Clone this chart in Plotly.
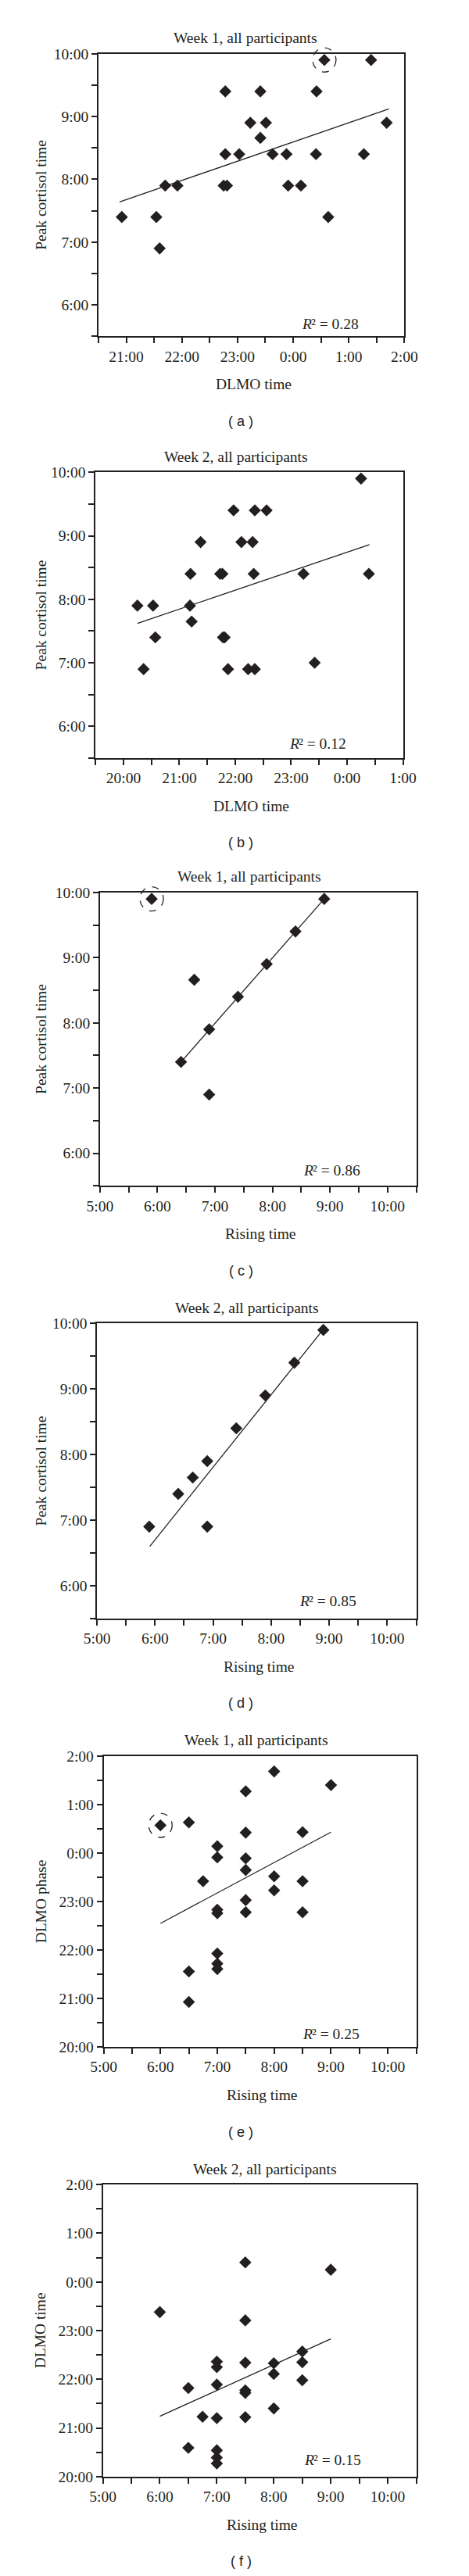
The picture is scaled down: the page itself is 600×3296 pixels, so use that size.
import plotly.graph_objects as go

W, H = 600, 3296
SERIF = "Liberation Serif"
SANS = "Liberation Sans"
INK = "#231f20"
FS = 19.5

# ---------------- data (hours; evening/night values continue past 24) ----------------
# (a) Week 1: DLMO time vs peak cortisol time
a_x = [20.92, 21.54, 21.60, 21.70, 21.92, 22.78, 22.78, 22.75, 22.81, 23.03, 23.23, 23.41, 23.41,
       23.51, 23.63, 23.88, 23.91, 24.14, 24.42, 24.41, 24.56, 24.63, 25.27, 25.40, 25.68]
a_y = [7.4, 7.4, 6.9, 7.9, 7.9, 9.4, 8.4, 7.9, 7.9, 8.4, 8.9, 9.4, 8.66,
       8.9, 8.4, 8.4, 7.9, 7.9, 9.4, 8.4, 9.9, 7.4, 8.4, 9.9, 8.9]
a_fit_x = [20.88, 25.72]
a_fit_y = [7.64, 9.12]
a_circled = [20]

# (b) Week 2: DLMO time vs peak cortisol time
b_x = [20.25, 20.36, 20.53, 20.57, 21.20, 21.19, 21.22, 21.38, 21.73, 21.77, 21.78, 21.81, 21.87,
       21.97, 22.11, 22.23, 22.31, 22.35, 22.33, 22.35, 22.56, 23.22, 23.42, 24.25, 24.39]
b_y = [7.9, 6.9, 7.9, 7.4, 8.4, 7.9, 7.65, 8.9, 8.4, 8.4, 7.4, 7.4, 6.9,
       9.4, 8.9, 6.9, 8.9, 9.4, 8.4, 6.9, 9.4, 8.4, 7.0, 9.9, 8.4]
b_fit_x = [20.25, 24.40]
b_fit_y = [7.62, 8.86]
b_circled = []

# (c) Week 1: rising time vs peak cortisol time
c_x = [5.9, 6.64, 6.41, 6.9, 6.9, 7.4, 7.9, 8.4, 8.9]
c_y = [9.9, 8.66, 7.4, 7.9, 6.9, 8.4, 8.9, 9.4, 9.9]
c_fit_x = [6.41, 8.90]
c_fit_y = [7.40, 9.90]
c_circled = [0]

# (d) Week 2: rising time vs peak cortisol time
d_x = [5.9, 6.4, 6.65, 6.9, 6.9, 7.4, 7.9, 8.4, 8.9]
d_y = [6.9, 7.4, 7.65, 7.9, 6.9, 8.4, 8.9, 9.4, 9.9]
d_fit_x = [5.91, 8.91]
d_fit_y = [6.60, 9.92]
d_circled = []

# (e) Week 1: rising time vs DLMO phase
e_x = [6.0, 6.5, 6.5, 6.5, 6.75, 7.0, 7.0, 7.0, 7.0, 7.0, 7.0, 7.0, 7.5,
       7.5, 7.5, 7.5, 7.5, 7.5, 8.0, 8.0, 8.0, 8.5, 8.5, 8.5, 9.0]
e_y = [24.57, 24.63, 21.56, 20.93, 23.42, 24.14, 23.91, 22.83, 22.76, 21.93, 21.72, 21.61, 25.27,
       24.42, 23.89, 23.65, 23.03, 22.78, 25.68, 23.52, 23.23, 24.43, 23.42, 22.78, 25.40]
e_fit_x = [6.0, 9.0]
e_fit_y = [22.55, 24.43]
e_circled = [0]

# (f) Week 2: rising time vs DLMO time
f_x = [6.0, 6.5, 6.5, 6.75, 7.0, 7.0, 7.0, 7.0, 7.0, 7.0, 7.0, 7.5,
       7.5, 7.5, 7.5, 7.5, 7.5, 8.0, 8.0, 8.0, 8.5, 8.5, 8.5, 9.0]
f_y = [23.38, 21.82, 20.59, 21.23, 22.36, 22.25, 21.89, 21.20, 20.54, 20.39, 20.27, 24.40,
       23.21, 22.34, 21.77, 21.72, 21.22, 22.33, 22.11, 21.40, 22.57, 22.35, 21.98, 24.25]
f_fit_x = [6.0, 9.0]
f_fit_y = [21.24, 22.83]
f_circled = []

# tick labels
dlmo_a_ticks = ["21:00", "22:00", "23:00", "0:00", "1:00", "2:00"]
dlmo_b_ticks = ["20:00", "21:00", "22:00", "23:00", "0:00", "1:00"]
rise_ticks = ["5:00", "6:00", "7:00", "8:00", "9:00", "10:00"]
cort_ticks = ["6:00", "7:00", "8:00", "9:00", "10:00"]
phase_ticks = ["20:00", "21:00", "22:00", "23:00", "0:00", "1:00", "2:00"]

r2_values = ["0.28", "0.12", "0.86", "0.85", "0.25", "0.15"]
titles = ["Week 1, all participants", "Week 2, all participants",
          "Week 1, all participants", "Week 2, all participants",
          "Week 1, all participants", "Week 2, all participants"]
x_titles = ["DLMO time", "DLMO time", "Rising time", "Rising time", "Rising time", "Rising time"]
y_titles = ["Peak cortisol time", "Peak cortisol time", "Peak cortisol time",
            "Peak cortisol time", "DLMO phase", "DLMO time"]
captions = ["( a )", "( b )", "( c )", "( d )", "( e )", "( f )"]


def hours_of(labels, wrap):
    """Convert 'H:00' labels to continuous hours (wrapping past midnight if wrap)."""
    out = []
    prev = None
    for lab in labels:
        h = int(lab.split(":")[0])
        if wrap and prev is not None:
            while h <= prev:
                h += 24
        out.append(h)
        prev = h
    return out


# ---------------- layout geometry (pixels) ----------------
panels = [
    dict(x=a_x, y=a_y, fx=a_fit_x, fy=a_fit_y, circ=a_circled, xr=[20.5, 26.0], yr=[5.5, 10.0],
         xt=dlmo_a_ticks, yt=cort_ticks, box=(107, 522, 51, 415), r2=(421, 16)),
    dict(x=b_x, y=b_y, fx=b_fit_x, fy=b_fit_y, circ=b_circled, xr=[19.5, 25.0], yr=[5.5, 10.0],
         xt=dlmo_b_ticks, yt=cort_ticks, box=(103, 520, 590, 958), r2=(404, 19)),
    dict(x=c_x, y=c_y, fx=c_fit_x, fy=c_fit_y, circ=c_circled, xr=[5.0, 10.5], yr=[5.5, 10.0],
         xt=rise_ticks, yt=cort_ticks, box=(109, 538, 1131, 1509), r2=(423, 20)),
    dict(x=d_x, y=d_y, fx=d_fit_x, fy=d_fit_y, circ=d_circled, xr=[5.0, 10.5], yr=[5.5, 10.0],
         xt=rise_ticks, yt=cort_ticks, box=(105, 538, 1686, 2066), r2=(418, 22)),
    dict(x=e_x, y=e_y, fx=e_fit_x, fy=e_fit_y, circ=e_circled, xr=[5.0, 10.5], yr=[20.0, 26.0],
         xt=rise_ticks, yt=phase_ticks, box=(114, 538, 2243, 2618), r2=(422, 17)),
    dict(x=f_x, y=f_y, fx=f_fit_x, fy=f_fit_y, circ=f_circled, xr=[5.0, 10.5], yr=[20.0, 26.0],
         xt=rise_ticks, yt=phase_ticks, box=(113, 538, 2795, 3171), r2=(424, 21)),
]
title_cx = [306, 294, 312, 309, 321, 333]

fig = go.Figure()
layout = dict(width=W, height=H, margin=dict(l=0, r=0, t=0, b=0), autosize=False,
              paper_bgcolor="white", plot_bgcolor="white", showlegend=False,
              font=dict(family=SERIF, size=FS, color=INK))
annotations = []
shapes = []


def px(xpix):
    return xpix / W


def py(ypix):
    return 1 - ypix / H


def note(text, xpix, ypix, anchor="center", size=FS, family=SERIF, style="normal", angle=0):
    annotations.append(dict(text=text, x=px(xpix), y=py(ypix), xref="paper", yref="paper",
                            showarrow=False, xanchor=anchor, yanchor="middle", textangle=angle,
                            borderpad=0, borderwidth=0,
                            font=dict(family=family, size=size, color=INK, style=style)))


for i, p in enumerate(panels):
    n = "" if i == 0 else str(i + 1)
    x0, x1, y0, y1 = p["box"]
    xv = hours_of(p["xt"], p["xr"][0] > 12)
    yv = hours_of(p["yt"], p["yr"][0] > 12)
    common = dict(showline=True, mirror=True, linecolor=INK, linewidth=1.5, ticks="outside",
                  ticklen=7, tickwidth=1.5, tickcolor=INK, showgrid=False, zeroline=False,
                  tickfont=dict(family=SERIF, size=FS, color=INK), fixedrange=True,
                  minor=dict(ticks="outside", dtick=0.5, tick0=0, ticklen=7, tickwidth=1.5,
                             tickcolor=INK, showgrid=False))
    layout["xaxis" + n] = dict(common, domain=[px(x0), px(x1)], range=p["xr"], tickvals=xv,
                               ticktext=p["xt"], anchor="y" + n)
    layout["yaxis" + n] = dict(common, domain=[py(y1), py(y0)], range=p["yr"], tickvals=yv,
                               ticktext=p["yt"], anchor="x" + n)
    fig.add_trace(go.Scatter(x=p["fx"], y=p["fy"], mode="lines", line=dict(color=INK, width=1.3),
                             xaxis="x" + n, yaxis="y" + n, hoverinfo="skip"))
    fig.add_trace(go.Scatter(x=p["x"], y=p["y"], mode="markers", cliponaxis=False,
                             marker=dict(symbol="diamond", size=12, color=INK, line=dict(width=0)),
                             xaxis="x" + n, yaxis="y" + n))
    # dashed circles around highlighted points (positioned through the axis scale, not clipped)
    for k in p["circ"]:
        cx = x0 + (p["x"][k] - p["xr"][0]) / (p["xr"][1] - p["xr"][0]) * (x1 - x0)
        cy = y1 - (p["y"][k] - p["yr"][0]) / (p["yr"][1] - p["yr"][0]) * (y1 - y0)
        shapes.append(dict(type="circle", xref="paper", yref="paper", xsizemode="pixel",
                           ysizemode="pixel", xanchor=px(cx), yanchor=py(cy),
                           x0=-15, x1=15, y0=-15.5, y1=15.5,
                           line=dict(color=INK, width=1.3, dash="dash")))
    # texts
    note(titles[i], title_cx[i], y0 - 20)
    note(x_titles[i], (x0 + x1) / 2 + 3, y1 + 62)
    note(y_titles[i], 29, (y0 + y1) / 2, angle=-90)
    note(captions[i], 300, y1 + 109, size=18, family=SANS)
    rx, rdy = p["r2"]
    note("R", rx - 24.5, y1 - rdy, anchor="right", style="italic")
    note("\u00b2 = " + r2_values[i], rx - 25.5, y1 - rdy, anchor="left")

layout["annotations"] = annotations
layout["shapes"] = shapes
fig.update_layout(**layout)
fig.write_html("out.html")
